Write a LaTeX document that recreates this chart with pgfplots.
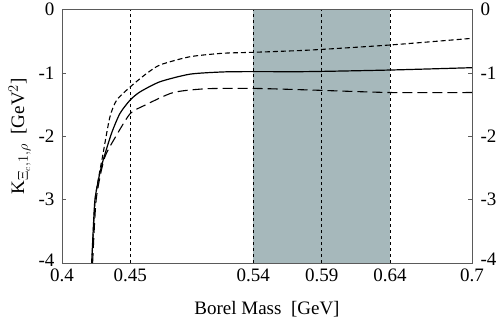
\documentclass[border=0pt]{standalone}
\usepackage{pgfplots}
\pgfplotsset{compat=1.18}
\usepackage{fontspec}
\setmainfont{Liberation Serif}
\definecolor{shade}{RGB}{166,184,187}
\definecolor{frame}{RGB}{90,90,90}

\begin{document}
\begin{tikzpicture}
\fontsize{19}{22}\selectfont
\path[use as bounding box] (-62pt,-59pt) rectangle (435pt,263pt);
\begin{axis}[
    at={(0,0)}, anchor=south west,
    scale only axis,
    width=410pt, height=253.5pt,
    xmin=0.4, xmax=0.7,
    ymin=-4, ymax=0,
    axis line style={frame, line width=0.6pt},
    xtick={0.4,0.45,0.54,0.59,0.64,0.7},
    xticklabels={0.4,0.45,0.54,0.59,0.64,0.7},
    xtick style={draw=none},
    ytick={-4,-3,-2,-1,0},
    yticklabels={\raisebox{6pt}{-4},-3,-2,-1,0},
    ytick pos=left,
    tick align=inside,
    major tick length=4pt,
    ytick style={frame, line width=0.5pt},
    ticklabel style={font=\fontsize{19}{22}\selectfont},
    xticklabel style={yshift=1pt},
    yticklabel style={xshift=-1pt},
    xlabel={Borel Mass\ \ [GeV]},
    ylabel={K$_{\Xi_c,1,\rho}$\ \ [GeV$^2$]},
    label style={font=\fontsize{19}{22}\selectfont},
    xlabel style={yshift=-7pt},
    ylabel style={yshift=-5pt},
    clip=true,
]
% working window
\addplot[fill=shade, draw=none] coordinates {(0.54,-4) (0.64,-4) (0.64,0) (0.54,0)} -- cycle;

% vertical markers
\addplot[black, line width=0.6pt, dash pattern=on 3.5pt off 2.5pt] coordinates {(0.45,-4) (0.45,0)};
\addplot[black, line width=0.6pt, dash pattern=on 3.5pt off 2.5pt] coordinates {(0.54,-4) (0.54,0)};
\addplot[black, line width=0.6pt, dash pattern=on 3.5pt off 2.5pt] coordinates {(0.59,-4) (0.59,0)};
\addplot[black, line width=0.6pt, dash pattern=on 3.5pt off 2.5pt] coordinates {(0.64,-4) (0.64,0)};

% central value
\addplot[black, line width=1.2pt, smooth, tension=0.4] coordinates {
(0.4217,-4.0) (0.4228,-3.5) (0.4241,-3.0) (0.4270,-2.65) (0.4302,-2.37)
(0.4363,-1.95) (0.4424,-1.64) (0.4498,-1.43) (0.4571,-1.30) (0.4717,-1.14)
(0.4937,-1.02) (0.518,-0.985) (0.54,-0.98) (0.58,-0.98) (0.64,-0.955) (0.70,-0.918)
};

% upper bound
\addplot[black, line width=1.1pt, dash pattern=on 5pt off 3pt, smooth, tension=0.4] coordinates {
(0.4219,-4.0) (0.4243,-3.0) (0.4300,-2.28) (0.435,-1.70) (0.440,-1.43)
(0.45,-1.22) (0.4607,-1.03) (0.4717,-0.875) (0.4937,-0.745) (0.518,-0.69)
(0.5405,-0.675) (0.5815,-0.64) (0.64,-0.56) (0.70,-0.455)
};

% lower bound
\addplot[black, line width=1.1pt, dash pattern=on 10pt off 5pt, smooth, tension=0.4] coordinates {
(0.4224,-4.0) (0.4250,-3.0) (0.4310,-2.35) (0.44,-1.98) (0.45,-1.64)
(0.4607,-1.51) (0.4814,-1.31) (0.5059,-1.25) (0.5405,-1.245) (0.5815,-1.27)
(0.64,-1.31) (0.70,-1.31)
};
\end{axis}
\begin{axis}[
    at={(0,0)}, anchor=south west,
    scale only axis,
    width=410pt, height=253.5pt,
    xmin=0.4, xmax=0.7,
    ymin=-4, ymax=0,
    axis x line=none,
    axis y line*=right,
    axis line style={frame, line width=0.6pt, -},
    ytick={-4,-3,-2,-1,0},
    yticklabels={\raisebox{8pt}{-4},-3,-2,-1,0},
    tick align=inside,
    major tick length=4pt,
    ytick style={frame, line width=0.5pt},
    ticklabel style={font=\fontsize{19}{22}\selectfont},
    yticklabel style={xshift=2pt},
]
\end{axis}
\end{tikzpicture}
\end{document}
